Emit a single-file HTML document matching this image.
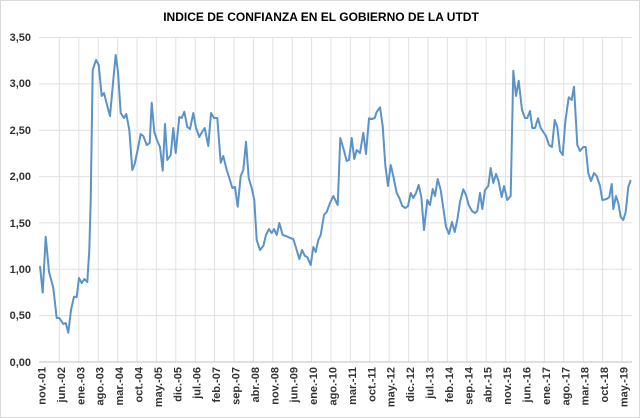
<!DOCTYPE html>
<html><head><meta charset="utf-8"><style>
body{margin:0;background:#fff;}
svg{display:block;font-family:"Liberation Sans",sans-serif;}
</style></head><body>
<svg width="640" height="418" viewBox="0 0 640 418" xmlns="http://www.w3.org/2000/svg">
<rect x="0.5" y="0.5" width="639" height="417" fill="#fff" stroke="#d9d9d9"/>
<text x="321" y="21" text-anchor="middle" font-size="12" font-weight="bold" fill="#000">INDICE DE CONFIANZA EN EL GOBIERNO  DE LA UTDT</text>
<g stroke="#e0e0e0" stroke-width="1">
<line x1="39" y1="37.5" x2="632" y2="37.5"/>
<line x1="39" y1="83.9" x2="632" y2="83.9"/>
<line x1="39" y1="130.2" x2="632" y2="130.2"/>
<line x1="39" y1="176.6" x2="632" y2="176.6"/>
<line x1="39" y1="222.9" x2="632" y2="222.9"/>
<line x1="39" y1="269.3" x2="632" y2="269.3"/>
<line x1="39" y1="315.6" x2="632" y2="315.6"/>
<line x1="59.4" y1="37" x2="59.4" y2="362"/><line x1="78.8" y1="37" x2="78.8" y2="362"/>
<line x1="98.2" y1="37" x2="98.2" y2="362"/><line x1="117.6" y1="37" x2="117.6" y2="362"/>
<line x1="137" y1="37" x2="137" y2="362"/><line x1="156.4" y1="37" x2="156.4" y2="362"/>
<line x1="175.8" y1="37" x2="175.8" y2="362"/><line x1="195.2" y1="37" x2="195.2" y2="362"/>
<line x1="214.6" y1="37" x2="214.6" y2="362"/><line x1="234" y1="37" x2="234" y2="362"/>
<line x1="253.4" y1="37" x2="253.4" y2="362"/><line x1="272.8" y1="37" x2="272.8" y2="362"/>
<line x1="292.2" y1="37" x2="292.2" y2="362"/><line x1="311.6" y1="37" x2="311.6" y2="362"/>
<line x1="331" y1="37" x2="331" y2="362"/><line x1="350.4" y1="37" x2="350.4" y2="362"/>
<line x1="369.8" y1="37" x2="369.8" y2="362"/><line x1="389.2" y1="37" x2="389.2" y2="362"/>
<line x1="408.6" y1="37" x2="408.6" y2="362"/><line x1="428" y1="37" x2="428" y2="362"/>
<line x1="447.4" y1="37" x2="447.4" y2="362"/><line x1="466.8" y1="37" x2="466.8" y2="362"/>
<line x1="486.2" y1="37" x2="486.2" y2="362"/><line x1="505.6" y1="37" x2="505.6" y2="362"/>
<line x1="525" y1="37" x2="525" y2="362"/><line x1="544.4" y1="37" x2="544.4" y2="362"/>
<line x1="563.8" y1="37" x2="563.8" y2="362"/><line x1="583.2" y1="37" x2="583.2" y2="362"/>
<line x1="602.6" y1="37" x2="602.6" y2="362"/><line x1="622" y1="37" x2="622" y2="362"/>
</g>
<line x1="39" y1="362" x2="632" y2="362" stroke="#bfbfbf"/>
<g font-size="11" font-weight="bold" fill="#333" text-anchor="end">
<text x="31" y="41">3,50</text><text x="31" y="87">3,00</text><text x="31" y="134">2,50</text>
<text x="31" y="180">2,00</text><text x="31" y="227">1,50</text><text x="31" y="273">1,00</text>
<text x="31" y="319">0,50</text><text x="31" y="366">0,00</text>
</g>
<g font-size="11" font-weight="bold" fill="#333" text-anchor="end">
<text transform="translate(45.5,367) rotate(-90)">nov.-01</text>
<text transform="translate(64.9,367) rotate(-90)">jun.-02</text>
<text transform="translate(84.3,367) rotate(-90)">ene.-03</text>
<text transform="translate(103.7,367) rotate(-90)">ago.-03</text>
<text transform="translate(123.1,367) rotate(-90)">mar.-04</text>
<text transform="translate(142.5,367) rotate(-90)">oct.-04</text>
<text transform="translate(161.9,367) rotate(-90)">may.-05</text>
<text transform="translate(181.3,367) rotate(-90)">dic.-05</text>
<text transform="translate(200.7,367) rotate(-90)">jul.-06</text>
<text transform="translate(220.1,367) rotate(-90)">feb.-07</text>
<text transform="translate(239.5,367) rotate(-90)">sep.-07</text>
<text transform="translate(258.9,367) rotate(-90)">abr.-08</text>
<text transform="translate(278.3,367) rotate(-90)">nov.-08</text>
<text transform="translate(297.7,367) rotate(-90)">jun.-09</text>
<text transform="translate(317.1,367) rotate(-90)">ene.-10</text>
<text transform="translate(336.5,367) rotate(-90)">ago.-10</text>
<text transform="translate(355.9,367) rotate(-90)">mar.-11</text>
<text transform="translate(375.3,367) rotate(-90)">oct.-11</text>
<text transform="translate(394.7,367) rotate(-90)">may.-12</text>
<text transform="translate(414.1,367) rotate(-90)">dic.-12</text>
<text transform="translate(433.5,367) rotate(-90)">jul.-13</text>
<text transform="translate(452.9,367) rotate(-90)">feb.-14</text>
<text transform="translate(472.3,367) rotate(-90)">sep.-14</text>
<text transform="translate(491.7,367) rotate(-90)">abr.-15</text>
<text transform="translate(511.1,367) rotate(-90)">nov.-15</text>
<text transform="translate(530.5,367) rotate(-90)">jun.-16</text>
<text transform="translate(549.9,367) rotate(-90)">ene.-17</text>
<text transform="translate(569.3,367) rotate(-90)">ago.-17</text>
<text transform="translate(588.7,367) rotate(-90)">mar.-18</text>
<text transform="translate(608.1,367) rotate(-90)">oct.-18</text>
<text transform="translate(627.5,367) rotate(-90)">may.-19</text>
</g>
<polyline fill="none" stroke="#5b93c7" stroke-width="2" stroke-linejoin="round" points="40,266 42.7,292.7 45.7,236.7 49,271.7 53.3,288 56.7,318 59.3,318 63.3,324 65.7,323 68.3,332.7 71,310 74,296.7 76.7,297 79,278 81.7,283 84.3,279 87.3,282 89.3,250 90.7,200 92.7,70 96,60 98.7,65 101.7,96 104,93 107.3,106 110,116 113.3,80 115.7,55 118,72 120.7,113 124,118 126.3,114 129.3,130 132.3,170 134.7,164 138,148 140.7,134 143.3,136 146.7,145 149.7,143 151.7,102.7 154.3,132 157.3,141 160,147 162.7,170.7 165,124 167.3,160 170.7,155 173.3,128 175.7,153 179.3,117 181.7,118 184.3,111.7 187.3,127 190,129 193.3,113 196,128 199.3,137 202,132 204.7,128 208.3,146 211,113 214,118 217.3,118 220.7,162.7 223.3,156 226.7,170 229.3,178 232.3,188 235,187 237.7,206.7 240.7,176 243.3,170 246,141.7 248.7,178 251.7,188 254.3,200 256.7,240 260,250 263.3,246 266,235 269,229 271.7,233 274,229 276.7,235 279.3,223 282.7,235 286,236 290,238 293.3,239 296.7,250 299.3,259 302,250 305,256 307.3,257 310.7,265 313.3,247 315.7,252 318.3,240 320.7,235 324,215 326.7,212 330,203 333.3,196 337.7,205 340.3,138 343.3,148 346.7,161 349,160 351.7,138 354.3,159 356.7,150 360,153 363.3,132.7 366,154 369,118.3 372,119 374.7,118 376.7,112 380,107.3 382.7,126 385.3,165 388,186 390.7,165 393.3,176 396.7,193 399.3,198 402.3,206 405.3,208 408,206 410.7,193 413.3,198 416,193 418.7,185 421.3,196.7 424,230 427.3,200 430,205 432.7,189 435,196 437.7,179 440.7,190 443.3,208 446,226.7 449,234 452,222 454.7,232 457.3,220 460,202 463.3,189.3 466,195 468.7,205 472,211 475,213 477.3,211 480,193 482.3,209 485,190 488.3,186 490.7,168 493.3,183 496,174 498.3,180 501.7,197 504,186 507.3,200 510.7,196 513.3,70.7 516,96 518.7,80.7 522,110 525,118 527.3,118 530,111 532.3,128 535,128 538,118.3 540.7,128 544,133 546,136 549,145 552,147 554.7,120 557.3,127 560,151 562.7,155 565.3,122 568.7,97.3 571.7,100 574,86.7 577.3,145 580,151 583.3,147 585.7,147 588.3,173.3 591,181 594,173 596.7,176 600,186 602.3,200 606.7,199 609.3,197 611.7,184 613.3,209 616,196 618.3,203 620.7,217 623.3,220 625.7,212 628.3,187 630.7,180"/>
</svg>
</body></html>
